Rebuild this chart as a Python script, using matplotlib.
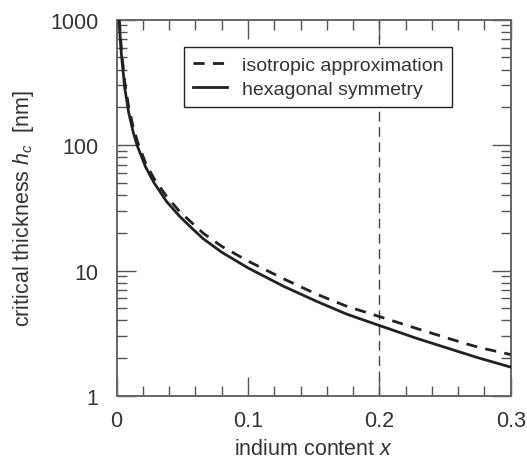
import matplotlib
matplotlib.use('Agg')
import matplotlib.pyplot as plt
from matplotlib.ticker import MultipleLocator, LogLocator, NullFormatter, FixedLocator, FixedFormatter

plt.rcParams['font.family'] = ['Liberation Sans', 'DejaVu Sans']
plt.rcParams['mathtext.fontset'] = 'custom'
plt.rcParams['mathtext.rm'] = 'Liberation Sans'
plt.rcParams['mathtext.it'] = 'Liberation Sans:italic'

# values
x_iso = [0.0020, 0.0037, 0.0062, 0.0092, 0.0125, 0.016, 0.022, 0.0285, 0.038, 0.048,
         0.066, 0.080, 0.100, 0.127, 0.152, 0.175, 0.200, 0.2285, 0.254, 0.275, 0.300]
h_iso = [1000, 560, 315, 200, 140, 105, 72, 54, 39, 29.5,
         19.8, 15.6, 11.9, 8.6, 6.5, 5.2, 4.3, 3.45, 2.85, 2.45, 2.14]

x_hex = [0.0018, 0.0035, 0.0061, 0.0091, 0.0125, 0.0155, 0.022, 0.0285, 0.038, 0.048,
         0.058, 0.066, 0.080, 0.100, 0.127, 0.152, 0.175, 0.200, 0.2285, 0.254,
         0.275, 0.300]
h_hex = [1000, 540, 288, 183, 128, 100, 67, 50, 35.5, 27,
         21.4, 17.9, 14.0, 10.5, 7.5, 5.7, 4.5, 3.65, 2.88, 2.37,
         2.02, 1.70]

x_mark = 0.2
xticks = [0, 0.1, 0.2, 0.3]
xtick_labels = ['0', '0.1', '0.2', '0.3']
yticks = [1, 10, 100, 1000]
ytick_labels = ['1', '10', '100', '1000']

txt = '#333333'
fig = plt.figure(figsize=(5.27, 4.64), dpi=100)
ax = fig.add_axes([0.2214, 0.1444, 0.7476, 0.811])

ax.axvline(x_mark, color='#444444', lw=1.0, ls=(0, (7, 4)), zorder=1)
ax.plot(x_iso, h_iso, color='#222222', lw=2.0, ls=(0, (4, 3)), label='isotropic approximation', zorder=3)
ax.plot(x_hex, h_hex, color='#222222', lw=2.0, label='hexagonal symmetry', zorder=3)

ax.set_yscale('log')
ax.set_xlim(0, 0.3)
ax.set_ylim(1, 1000)

ax.xaxis.set_major_locator(FixedLocator(xticks))
ax.xaxis.set_major_formatter(FixedFormatter(xtick_labels))
ax.xaxis.set_minor_locator(MultipleLocator(0.02))
ax.yaxis.set_major_locator(FixedLocator(yticks))
ax.yaxis.set_major_formatter(FixedFormatter(ytick_labels))
ax.yaxis.set_minor_locator(LogLocator(base=10, subs=range(2, 10)))
ax.yaxis.set_minor_formatter(NullFormatter())

ax.tick_params(which='both', direction='in', top=True, right=True, color='#555555', width=1.0,
               labelsize=15.5, labelcolor=txt)
ax.tick_params(which='major', length=14, pad=10)
ax.tick_params(axis='y', which='major', pad=13)
ax.tick_params(which='minor', length=7)
for s in ax.spines.values():
    s.set_color('#666666')
    s.set_linewidth(1.4)

ax.set_xlabel('indium content $x$', fontsize=15.5, color=txt, labelpad=5)
ax.set_ylabel('critical thickness $h_c$  [nm]', fontsize=15.5, color=txt, labelpad=10)

leg = ax.legend(loc='upper right', bbox_to_anchor=(0.851, 0.927), borderaxespad=0,
                fontsize=14, frameon=True, fancybox=False, handlelength=1.75,
                labelspacing=0.35, borderpad=0.45, handletextpad=0.75)
leg.get_frame().set_edgecolor('#222222')
leg.get_frame().set_linewidth(1.0)
leg.get_frame().set_alpha(1)
for t in leg.get_texts():
    t.set_color(txt)

fig.savefig('out.png', dpi=100)
